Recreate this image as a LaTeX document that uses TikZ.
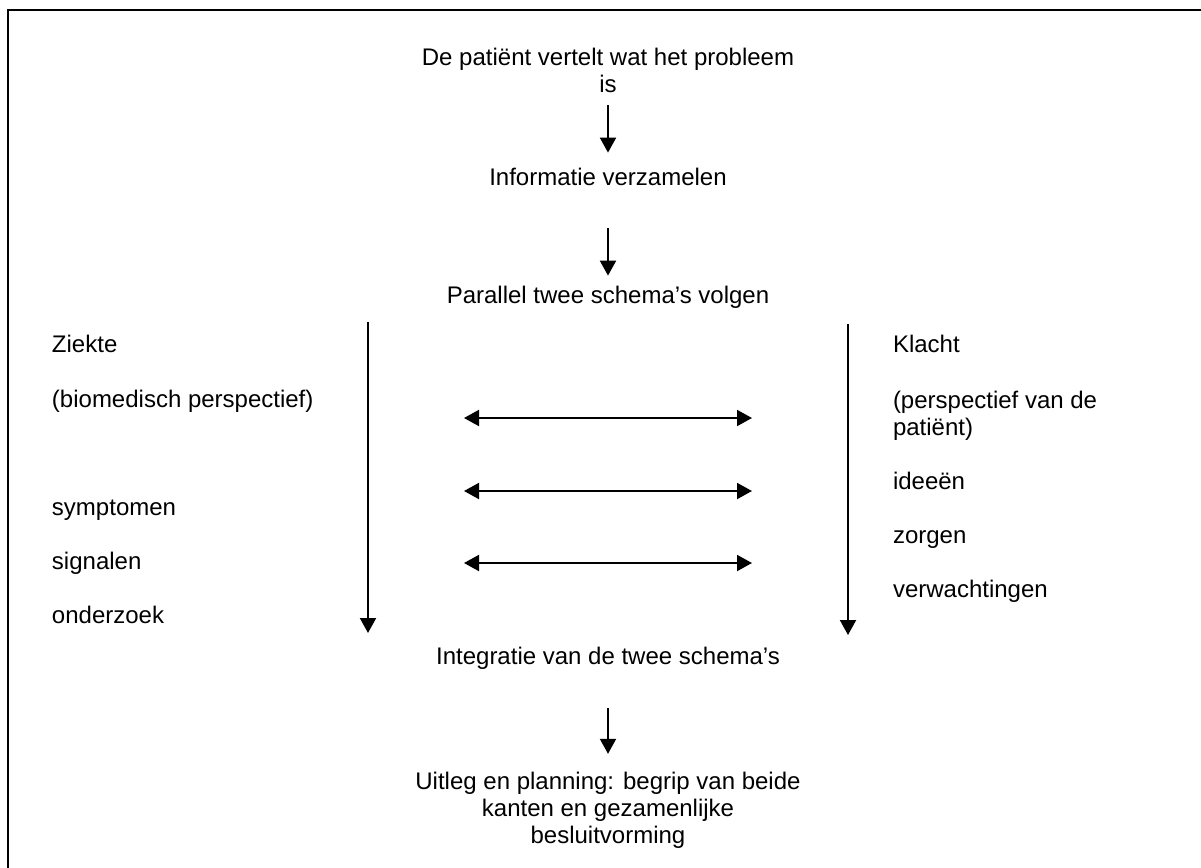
\documentclass[tikz,border=0pt]{standalone}
\usepackage{fontspec}
\setmainfont{Liberation Sans}
\usetikzlibrary{positioning,arrows.meta}

\begin{document}
\begin{tikzpicture}[->,>={Triangle[width=8pt,length=7.5pt]},line width=1pt,x=0.5pt,y=-0.5pt,
    text node/.style={inner sep=0pt,align=center,font=\fontsize{12}{13.5}\selectfont},
    side node/.style={text node,align=left,anchor=base west}]

\useasboundingbox (0,0) rectangle (1201,868);
\draw[-] (7.5,880) |- (1215,9.5);

\node[text node]                 (patient)  at (608,70)   {De patiënt vertelt wat het probleem\\is};
\node[text node,anchor=base]     (info)     at (608,185)  {Informatie verzamelen};
\node[text node,anchor=base]     (parallel) at (608,303)  {Parallel twee schema’s volgen};
\node[text node,anchor=base]     (integr)   at (608,664)  {Integratie van de twee schema’s};
\node[text node]                 (uitleg)   at (608,810)  {Uitleg en planning: begrip van beide\\kanten en gezamenlijke\\besluitvorming};

\node[side node] (ziekte)   at (51,352)  {Ziekte};
\node[side node] (biomed)   at (51,407)  {(biomedisch perspectief)};
\node[side node] (sympt)    at (51,515)  {symptomen};
\node[side node] (sign)     at (51,569)  {signalen};
\node[side node] (onderz)   at (51,623)  {onderzoek};

\node[side node] (klacht)   at (892,352) {Klacht};
\node[side node] (perspat)  at (892,435) {(perspectief van de\\patiënt)};
\node[side node] (ideeen)   at (892,489) {ideeën};
\node[side node] (zorgen)   at (892,543) {zorgen};
\node[side node] (verwacht) at (892,597) {verwachtingen};

\coordinate (ziektetop) at (368,322);
\coordinate (ziektebot) at (368,633);
\coordinate (klachttop) at (848,324);
\coordinate (klachtbot) at (848,635);

\path
(patient)   edge[shorten <=6pt,shorten >=7pt]      (info)
(info)      edge[shorten <=21pt,shorten >=4.5pt]   (parallel)
(integr)    edge[shorten <=19pt,shorten >=8.5pt]   (uitleg)
(ziektetop) edge (ziektebot)
(klachttop) edge (klachtbot);

\draw[<->] (464,418) -- (752,418);
\draw[<->] (464,491) -- (752,491);
\draw[<->] (464,563) -- (752,563);
\end{tikzpicture}
\end{document}
